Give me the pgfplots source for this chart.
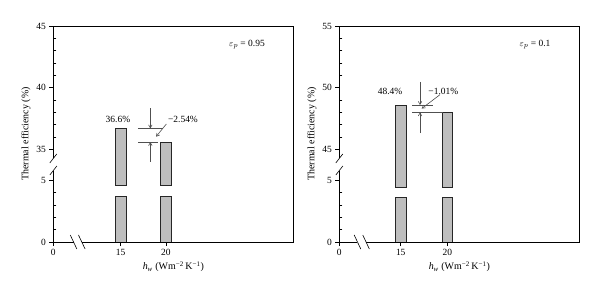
\documentclass[border=0pt]{standalone}
\usepackage{fontspec}
\setmainfont{Liberation Serif}
\usepackage{pgfplots}
\pgfplotsset{compat=1.18}
\usetikzlibrary{arrows.meta}
\definecolor{barfill}{HTML}{BEBEBE}
\definecolor{annot}{HTML}{505050}
\tikzset{
  brkbar/.style={fill=barfill, draw=black!85, line width=0.5bp},
  ann/.style={annot, line width=0.6bp},
  annarr/.style={annot, line width=0.6bp, -{Straight Barb[length=3bp,width=3.5bp]}},
  frm/.style={black, line width=0.6bp},
  afont/.style={font=\fontsize{9.5}{11}\selectfont},
}
\begin{document}
\begin{tikzpicture}[x=1bp,y=1bp]
\path[use as bounding box] (0,0) rectangle (600,297);
\pgfplotsset{
  brk/.style={
    width=240bp, height=216bp, scale only axis,
    axis x line*=bottom, axis y line*=left,
    axis line style={draw=none},
    ymin=0, ymax=17.5,
    font=\fontsize{9.5}{11}\selectfont,
    label style={font=\fontsize{10}{12}\selectfont},
    /pgf/number format/assume math mode=true,
    tick align=outside,
    major tick length=4bp,
    minor tick length=-3bp,
    ytick={0,5,7.5,12.5,17.5},
    minor ytick={1,2,3,4,8.5,9.5,10.5,11.5,13.5,14.5,15.5,16.5},
    tick style={black, line width=0.5bp},
    clip=false,
    xlabel={\textit{h}\textsubscript{\textit{w}} (Wm\textsuperscript{−2}\,K\textsuperscript{−1})},
    ylabel={Thermal efficiency (\%)},
    xlabel style={yshift=1bp},
    ylabel style={yshift=-1bp},
  },
}
% ---------------- left panel (eps_p = 0.95); upper segment: plot y = value - 27.5
\begin{axis}[brk, at={(53.3bp,55bp)}, anchor=south west,
  xmin=7.56, xmax=34.1,
  xtick={7.56,15,20}, xticklabels={0,15,20},
  yticklabels={0,5,35,40,45}]
  % bar at 15 : value 36.7 -> 9.2
  \addplot[brkbar] coordinates {(14.4,0) (15.6,0) (15.6,3.7) (14.4,3.7)} -- cycle;
  \addplot[brkbar] coordinates {(14.4,4.6) (15.6,4.6) (15.6,9.2) (14.4,9.2)} -- cycle;
  % bar at 20 : value 35.6 -> 8.1
  \addplot[brkbar] coordinates {(19.4,0) (20.6,0) (20.6,3.7) (19.4,3.7)} -- cycle;
  \addplot[brkbar] coordinates {(19.4,4.6) (20.6,4.6) (20.6,8.1) (19.4,8.1)} -- cycle;
  % frame with breaks
  \draw[frm] (axis cs:7.56,6.77) -- (axis cs:7.56,17.5) -- (axis cs:34.1,17.5) -- (axis cs:34.1,0) -- (axis cs:10.71,0);
  \draw[frm] (axis cs:9.8,0) -- (axis cs:7.56,0) -- (axis cs:7.56,5.79);
  \coordinate (LY1) at (axis cs:7.56,6.77);
  \coordinate (LY2) at (axis cs:7.56,5.79);
  \coordinate (LX1) at (axis cs:9.8,0);
  \coordinate (LX2) at (axis cs:10.71,0);
  % annotation
  \draw[ann] (axis cs:16.92,9.2) -- (axis cs:19.65,9.2);
  \draw[ann] (axis cs:16.96,8.1) -- (axis cs:19.14,8.1);
  \draw[annarr] (axis cs:18.29,10.83) -- (axis cs:18.29,9.2);
  \draw[annarr] (axis cs:18.29,6.5) -- (axis cs:18.29,8.1);
  \draw[annarr] (axis cs:20.06,9.56) -- (axis cs:18.92,8.53);
  \node[afont] at (axis cs:14.71,9.97) {36.6\%};
  \node[afont] at (axis cs:21.9,9.97) {−2.54\%};
  \node[afont] at (axis cs:28.98,16.02) {$\varepsilon_p$ = 0.95};
\end{axis}
\draw[frm] ([shift={(-3.5,-4.5)}]LY1) -- ([shift={(3.5,4.5)}]LY1);
\draw[frm] ([shift={(-3.5,-4.5)}]LY2) -- ([shift={(3.5,4.5)}]LY2);
\draw[frm] ([shift={(-3.3,7)}]LX1) -- ([shift={(3.3,-7)}]LX1);
\draw[frm] ([shift={(-3.3,7)}]LX2) -- ([shift={(3.3,-7)}]LX2);
% ---------------- right panel (eps_p = 0.1); upper segment: plot y = value - 37.5
\begin{axis}[brk, at={(339.3bp,55bp)}, anchor=south west,
  xmin=8.41, xmax=34.16,
  xtick={8.41,15,20}, xticklabels={0,15,20},
  yticklabels={0,5,45,50,55}]
  % bar at 15 : value 48.6 -> 11.1
  \addplot[brkbar] coordinates {(14.45,0) (15.55,0) (15.55,3.6) (14.45,3.6)} -- cycle;
  \addplot[brkbar] coordinates {(14.45,4.45) (15.55,4.45) (15.55,11.1) (14.45,11.1)} -- cycle;
  % bar at 20 : value 48.0 -> 10.5
  \addplot[brkbar] coordinates {(19.45,0) (20.55,0) (20.55,3.6) (19.45,3.6)} -- cycle;
  \addplot[brkbar] coordinates {(19.45,4.45) (20.55,4.45) (20.55,10.5) (19.45,10.5)} -- cycle;
  \draw[frm] (axis cs:8.41,6.77) -- (axis cs:8.41,17.5) -- (axis cs:34.16,17.5) -- (axis cs:34.16,0) -- (axis cs:11.28,0);
  \draw[frm] (axis cs:10.36,0) -- (axis cs:8.41,0) -- (axis cs:8.41,5.79);
  \coordinate (RY1) at (axis cs:8.41,6.77);
  \coordinate (RY2) at (axis cs:8.41,5.79);
  \coordinate (RX1) at (axis cs:10.36,0);
  \coordinate (RX2) at (axis cs:11.28,0);
  \draw[ann] (axis cs:16.24,11.1) -- (axis cs:18.5,11.1);
  \draw[ann] (axis cs:16.21,10.5) -- (axis cs:19.57,10.5);
  \draw[annarr] (axis cs:17.07,12.97) -- (axis cs:17.07,11.1);
  \draw[annarr] (axis cs:17.07,8.83) -- (axis cs:17.07,10.5);
  \draw[annarr] (axis cs:19.22,11.94) -- (axis cs:17.25,10.81);
  \node[afont] at (axis cs:13.85,12.24) {48.4\%};
  \node[afont] at (axis cs:19.57,12.24) {−1.01\%};
  \node[afont] at (axis cs:29.41,16.02) {$\varepsilon_p$ = 0.1};
\end{axis}
\draw[frm] ([shift={(-3.5,-4.5)}]RY1) -- ([shift={(3.5,4.5)}]RY1);
\draw[frm] ([shift={(-3.5,-4.5)}]RY2) -- ([shift={(3.5,4.5)}]RY2);
\draw[frm] ([shift={(-3.3,7)}]RX1) -- ([shift={(3.3,-7)}]RX1);
\draw[frm] ([shift={(-3.3,7)}]RX2) -- ([shift={(3.3,-7)}]RX2);
\end{tikzpicture}
\end{document}
